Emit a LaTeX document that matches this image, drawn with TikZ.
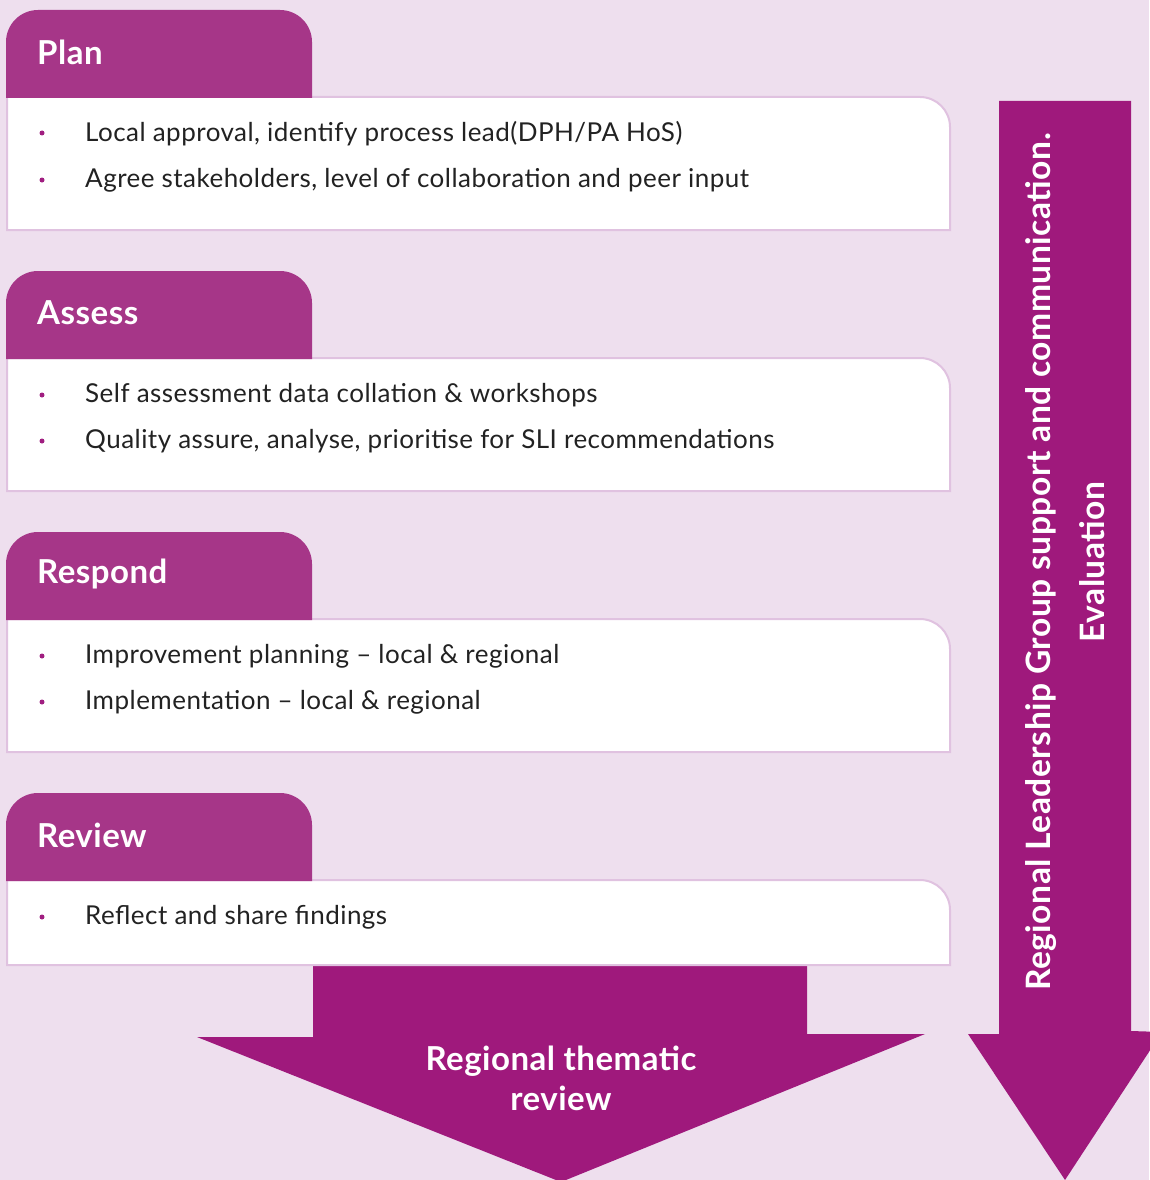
\documentclass[tikz,border=0pt]{standalone}
\usepackage{fontspec}
\setmainfont{Lato}
\newfontfamily\bodyfont{Lato}[LetterSpace=1.8]
\newfontfamily\headfont{Lato}[LetterSpace=1.5]
\definecolor{bgc}{RGB}{238,223,238}
\definecolor{tabc}{RGB}{166,54,136}
\definecolor{arrc}{RGB}{159,25,124}
\definecolor{edgec}{RGB}{224,194,224}
\definecolor{txtc}{RGB}{34,34,34}
\definecolor{dotc}{RGB}{160,30,128}
\tikzset{
  tabshape/.style={fill=tabc},
  boxshape/.style={fill=white, draw=edgec, line width=2pt},
  arrshape/.style={fill=arrc},
  tabtitle/.style={anchor=west, inner sep=0pt, text=white, font=\headfont\fontsize{33}{38}\selectfont\bfseries},
  itemtext/.style={anchor=west, inner sep=0pt, text=txtc, font=\bodyfont\fontsize{26}{30}\selectfont},
  bulletdot/.style={circle, fill=dotc, inner sep=0pt, minimum size=5pt},
  arrtext/.style={text=white, align=center, font=\headfont\fontsize{33.6}{54}\selectfont\bfseries, inner sep=0pt}
}
\newcommand{\stagebox}[5]{% #1 top y, #2 box bottom y, #3 name, #4 title
  \fill[boxshape] (7,#1+87) -- (920,#1+87) arc[start angle=-90, end angle=0, radius=30] -- (950,#2) -- (7,#2) -- cycle;
  \fill[tabshape] (6,#1+88) -- (6,#1+32) arc[start angle=180, end angle=270, radius=32] -- (280,#1) arc[start angle=-90, end angle=0, radius=32] -- (312,#1+88) -- cycle;
  \node[tabtitle] (#3) at (37,#1+42) {#4};
}
\begin{document}
\begin{tikzpicture}[x=1pt,y=-1pt]
\useasboundingbox (0,0) rectangle (1149,1180);
\fill[bgc] (0,0) rectangle (1149,1180);

% right arrow
\fill[arrshape] (999,101) -- (1131,101) -- (1131,1031) -- (1162,1032) -- (1065,1180) -- (968,1034) -- (999,1034) -- cycle;
\node[arrtext, rotate=90] (rlg) at (1065,562) {Regional Leadership Group support and communication.\\Evaluation};

% bottom arrow
\fill[arrshape] (313,963) -- (807,963) -- (807,1034) -- (925,1034) -- (561,1182) -- (197,1037) -- (313,1037) -- cycle;
\node[text=white, align=center, font=\headfont\fontsize{33}{40}\selectfont\bfseries, inner sep=0pt] (rtr) at (561,1078) {Regional thematic\\review};

% Plan
\stagebox{10}{230}{plan}{Plan}{}
\node[bulletdot] (p1d) at (42,133) {};
\node[itemtext] (p1) at (85,134) {Local approval, identify process lead(DPH/PA HoS)};
\node[bulletdot] (p2d) at (42,180) {};
\node[itemtext] (p2) at (85,180) {Agree stakeholders, level of collaboration and peer input};

% Assess
\stagebox{271}{491}{assess}{Assess}{}
\node[bulletdot] (a1d) at (42,395) {};
\node[itemtext] (a1) at (85,395) {Self assessment data collation \& workshops};
\node[bulletdot] (a2d) at (42,441) {};
\node[itemtext] (a2) at (85,441) {Quality assure, analyse, prioritise for SLI recommendations};

% Respond
\stagebox{532}{752}{respond}{Respond}{}
\node[bulletdot] (r1d) at (42,656) {};
\node[itemtext] (r1) at (85,656) {Improvement planning – local \& regional};
\node[bulletdot] (r2d) at (42,702) {};
\node[itemtext] (r2) at (85,702) {Implementation – local \& regional};

% Review
\stagebox{793}{965}{review}{Review}{}
\node[bulletdot] (v1d) at (42,917) {};
\node[itemtext] (v1) at (85,917) {Reflect and share findings};
\end{tikzpicture}
\end{document}
